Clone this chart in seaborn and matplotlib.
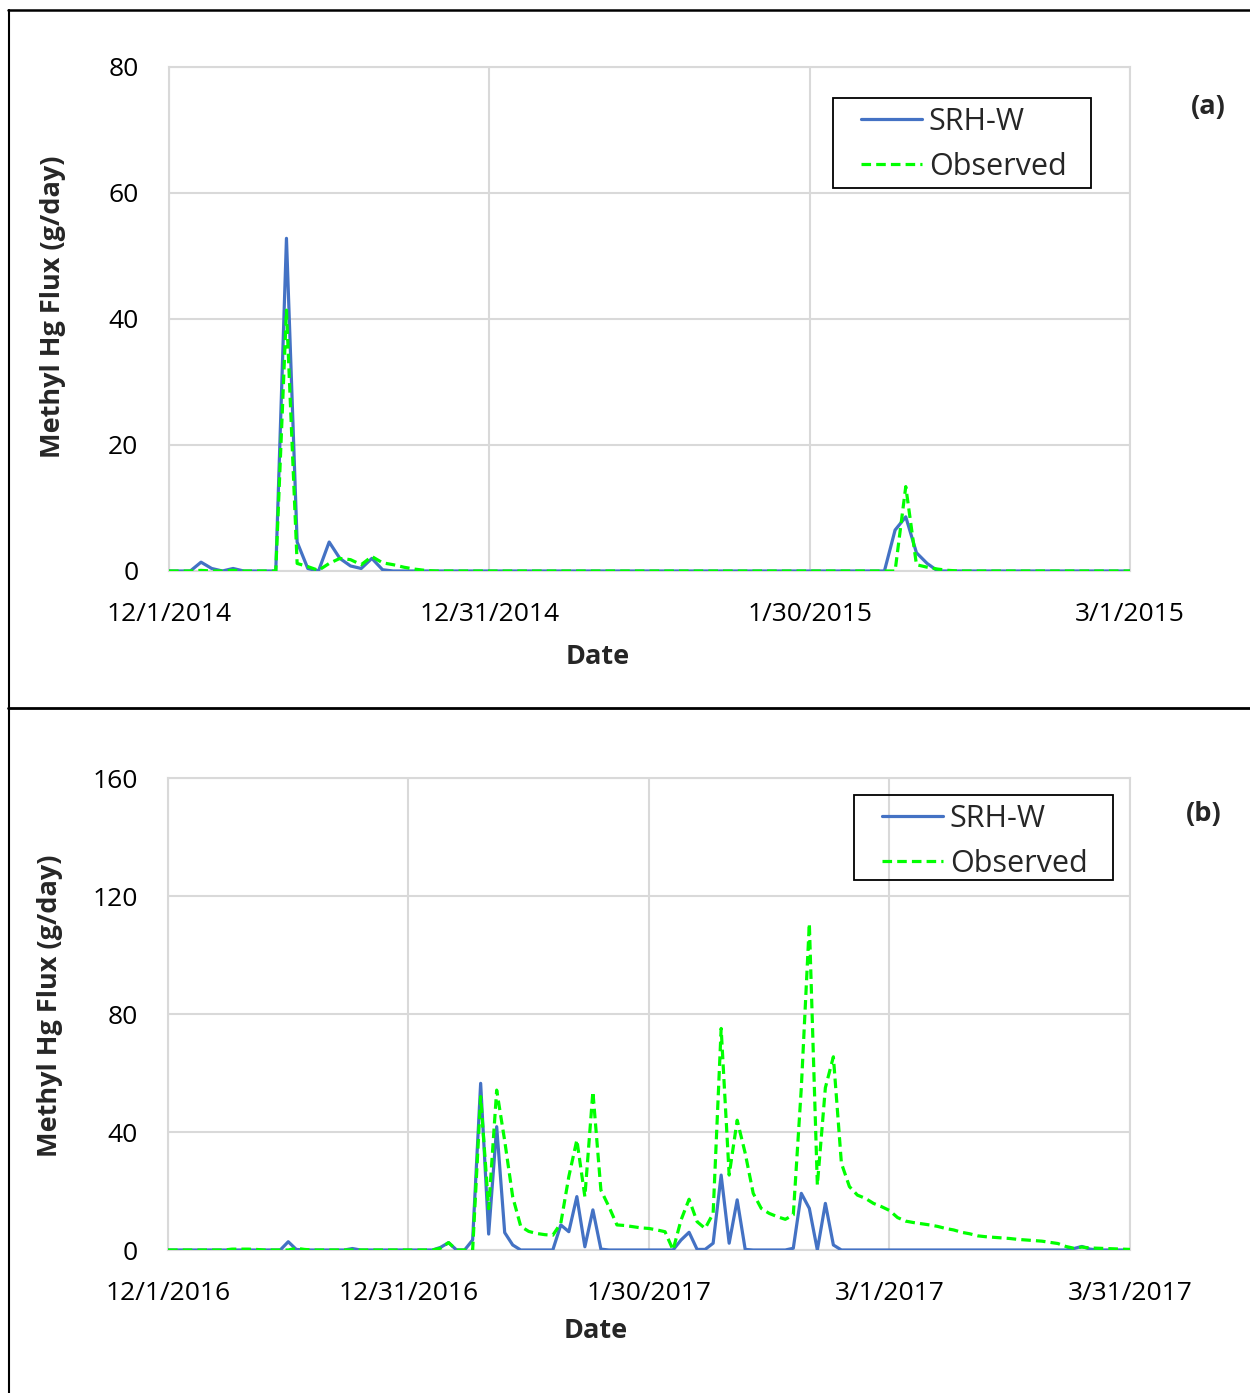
import matplotlib
matplotlib.use("Agg")
import matplotlib.pyplot as plt
from matplotlib.lines import Line2D
from matplotlib.patches import Rectangle
import seaborn as sns
import pandas as pd

# ---- data: daily methyl mercury flux (g/day) ----
start_a = "2014-12-01"
srhw_a = [0, 0, 0, 1.4, 0.4, 0, 0.4, 0, 0, 0,
          0, 52.8, 4.6, 0.4, 0, 4.6, 2.0, 0.8, 0.4, 2.0,
          0.2, 0, 0, 0, 0, 0, 0, 0, 0, 0,
          0, 0, 0, 0, 0, 0, 0, 0, 0, 0,
          0, 0, 0, 0, 0, 0, 0, 0, 0, 0,
          0, 0, 0, 0, 0, 0, 0, 0, 0, 0,
          0, 0, 0, 0, 0, 0, 0, 0, 6.5, 8.6,
          2.9, 1.2, 0, 0, 0, 0, 0, 0, 0, 0,
          0, 0, 0, 0, 0, 0, 0, 0, 0, 0,
          0]
obs_a = [0, 0, 0, 0.1, 0, 0, 0.1, 0, 0, 0,
         0, 41.4, 1.2, 0.7, 0.1, 1.2, 2.0, 1.8, 1.0, 2.3,
         1.3, 1.0, 0.6, 0.3, 0.1, 0, 0, 0, 0, 0,
         0, 0, 0, 0, 0, 0, 0, 0, 0, 0,
         0, 0, 0, 0, 0, 0, 0, 0, 0, 0,
         0, 0, 0, 0, 0, 0, 0, 0, 0, 0,
         0, 0, 0, 0, 0, 0, 0, 0, 0, 13.4,
         1.0, 0.6, 0.3, 0.1, 0, 0, 0, 0, 0, 0,
         0, 0, 0, 0, 0, 0, 0, 0, 0, 0,
         0]

start_b = "2016-12-01"
srhw_b = [0, 0, 0, 0, 0, 0, 0, 0, 0, 0,
          0, 0, 0, 0, 0, 2.8, 0.2, 0, 0, 0,
          0, 0, 0, 0.5, 0, 0, 0, 0, 0, 0,
          0, 0, 0, 0, 0.9, 2.5, 0, 0, 3.4, 56.5,
          5.4, 41.8, 5.9, 1.7, 0, 0, 0, 0, 0, 8.5,
          6.2, 18.1, 1.1, 13.6, 0.3, 0, 0, 0, 0, 0,
          0, 0, 0, 0, 3.4, 6.0, 0.2, 0.2, 2.3, 25.4,
          2.3, 17.0, 0.2, 0, 0, 0, 0, 0, 0.6, 19.2,
          14.1, 0, 15.8, 1.7, 0, 0, 0, 0, 0, 0,
          0, 0, 0, 0, 0, 0, 0, 0, 0, 0,
          0, 0, 0, 0, 0, 0, 0, 0, 0, 0,
          0, 0, 0, 0.5, 1.2, 0.3, 0, 0, 0, 0,
          0]
obs_b = [0, 0, 0, 0, 0, 0, 0, 0, 0.3, 0.3,
         0.3, 0.2, 0, 0, 0, 0, 0.6, 0.2, 0, 0,
         0, 0, 0, 0, 0, 0, 0, 0, 0, 0,
         0, 0, 0, 0, 0.6, 2.5, 0, 0, 0, 52.0,
         14.0, 54.2, 37.0, 18.0, 8.0, 6.3, 5.6, 5.2, 5.0, 9.1,
         24.9, 37.3, 18.1, 53.7, 20.3, 14.7, 8.5, 8.3, 7.9, 7.5,
         7.3, 6.8, 6.2, 0, 10.2, 17.2, 9.6, 7.3, 12.4, 75.1,
         25.4, 44.0, 32.8, 19.2, 14.1, 12.4, 11.3, 10.4, 11.9, 55.0,
         110.7, 22.0, 55.0, 65.5, 29.4, 21.5, 18.6, 17.5, 15.8, 14.7,
         13.4, 11.0, 9.8, 9.3, 8.9, 8.5, 8.0, 7.3, 6.8, 6.0,
         5.5, 4.8, 4.5, 4.3, 4.1, 3.9, 3.6, 3.4, 3.2, 3.0,
         2.6, 2.2, 1.2, 0.6, 1.0, 0.7, 0.6, 0.5, 0.4, 0.3,
         0.2]

ticks_a = ["12/1/2014", "12/31/2014", "1/30/2015", "3/1/2015"]
ticks_b = ["12/1/2016", "12/31/2016", "1/30/2017", "3/1/2017", "3/31/2017"]
yticks_a = [0, 20, 40, 60, 80]
yticks_b = [0, 40, 80, 120, 160]
series_names = ["SRH-W", "Observed"]
panel_tags = ["(a)", "(b)"]

BLUE = "#4472C4"
GREEN = "#00FF00"
GRID = "#D9D9D9"

sns.set_theme(style="white")
plt.rcParams["font.family"] = ["Open Sans", "DejaVu Sans"]

W, H = 1250, 1393
fig = plt.figure(figsize=(W / 100, H / 100), dpi=100)


def frac_box(left, top, right, bottom):
    return [left / W, 1 - bottom / H, (right - left) / W, (bottom - top) / H]


def build(ax, box, start, sim, obs, ticks, yticks, tag, tag_xy, leg_box, ylab_xy, xlab_xy):
    left, top, right, bottom = box
    pw, ph = right - left, bottom - top

    dates = pd.date_range(start, periods=len(sim), freq="D")
    df = pd.DataFrame({"Date": dates, series_names[0]: sim, series_names[1]: obs})
    sns.lineplot(data=df, x="Date", y=series_names[0], ax=ax, color=BLUE,
                 linewidth=2.3, label=series_names[0], zorder=3)
    sns.lineplot(data=df, x="Date", y=series_names[1], ax=ax, color=GREEN,
                 linewidth=2.3, linestyle=(0, (3, 1.6)), label=series_names[1], zorder=4)

    tick_dates = pd.to_datetime(ticks, format="%m/%d/%Y")
    ax.set_xlim(tick_dates[0], tick_dates[-1])
    ax.set_xticks(tick_dates)
    ax.set_xticklabels(ticks)
    ax.set_ylim(yticks[0], yticks[-1])
    ax.set_yticks(yticks)
    ax.tick_params(axis="both", length=0, labelsize=19, colors="black")
    ax.tick_params(axis="y", pad=22)
    ax.tick_params(axis="x", pad=22)

    ax.grid(True, color=GRID, linewidth=1.5)
    for sp in ax.spines.values():
        sp.set_color(GRID)
        sp.set_linewidth(1.5)
        sp.set_zorder(1)

    ax.set_ylabel("Methyl Hg Flux (g/day)", fontsize=19.5, fontweight="bold")
    ax.set_xlabel("Date", fontsize=19.5, fontweight="bold")
    ax.yaxis.set_label_coords((ylab_xy[0] - left) / pw, (bottom - ylab_xy[1]) / ph)
    ax.xaxis.set_label_coords((xlab_xy[0] - left) / pw, (bottom - xlab_xy[1]) / ph)
    ax.xaxis.label.set_va("center")
    ax.yaxis.label.set_va("center")

    # legend content without its own frame; a plain black box is drawn around it
    bx0, by0, bx1, by1 = leg_box
    leg = ax.legend(loc="upper left",
                    bbox_to_anchor=((bx0 + 28 - left) / pw, (bottom - by0 - 9) / ph),
                    borderaxespad=0, borderpad=0, fontsize=22, frameon=False,
                    handlelength=2.0, handletextpad=0.22, labelspacing=0.48)
    fig.add_artist(Rectangle((bx0 / W, 1 - by1 / H), (bx1 - bx0) / W, (by1 - by0) / H,
                             transform=fig.transFigure, fill=False,
                             edgecolor="black", linewidth=1.3))

    fig.text(tag_xy[0] / W, 1 - tag_xy[1] / H, tag, fontsize=19.5,
             fontweight="bold", ha="center", va="center")


box_a = (169, 67, 1130, 571)
ax_a = fig.add_axes(frac_box(*box_a))
build(ax_a, box_a, start_a, srhw_a, obs_a, ticks_a, yticks_a, panel_tags[0],
      (1208, 107), (833, 98, 1091, 188), (53, 307), (598, 657))

box_b = (168, 778, 1130, 1250)
ax_b = fig.add_axes(frac_box(*box_b))
build(ax_b, box_b, start_b, srhw_b, obs_b, ticks_b, yticks_b, panel_tags[1],
      (1204, 814), (854, 795, 1113, 880), (50, 1006), (596, 1331))

# panel frames
fig.add_artist(Line2D([8 / W, 1], [1 - 9.5 / H, 1 - 9.5 / H], color="black", linewidth=1.8,
                      transform=fig.transFigure))
fig.add_artist(Line2D([8.5 / W, 8.5 / W], [0, 1 - 9.5 / H], color="black", linewidth=1.5,
                      transform=fig.transFigure))
fig.add_artist(Line2D([8 / W, 1], [1 - 707.5 / H, 1 - 707.5 / H], color="black", linewidth=2.0,
                      transform=fig.transFigure))

fig.savefig("out.png", dpi=100, facecolor="white")
